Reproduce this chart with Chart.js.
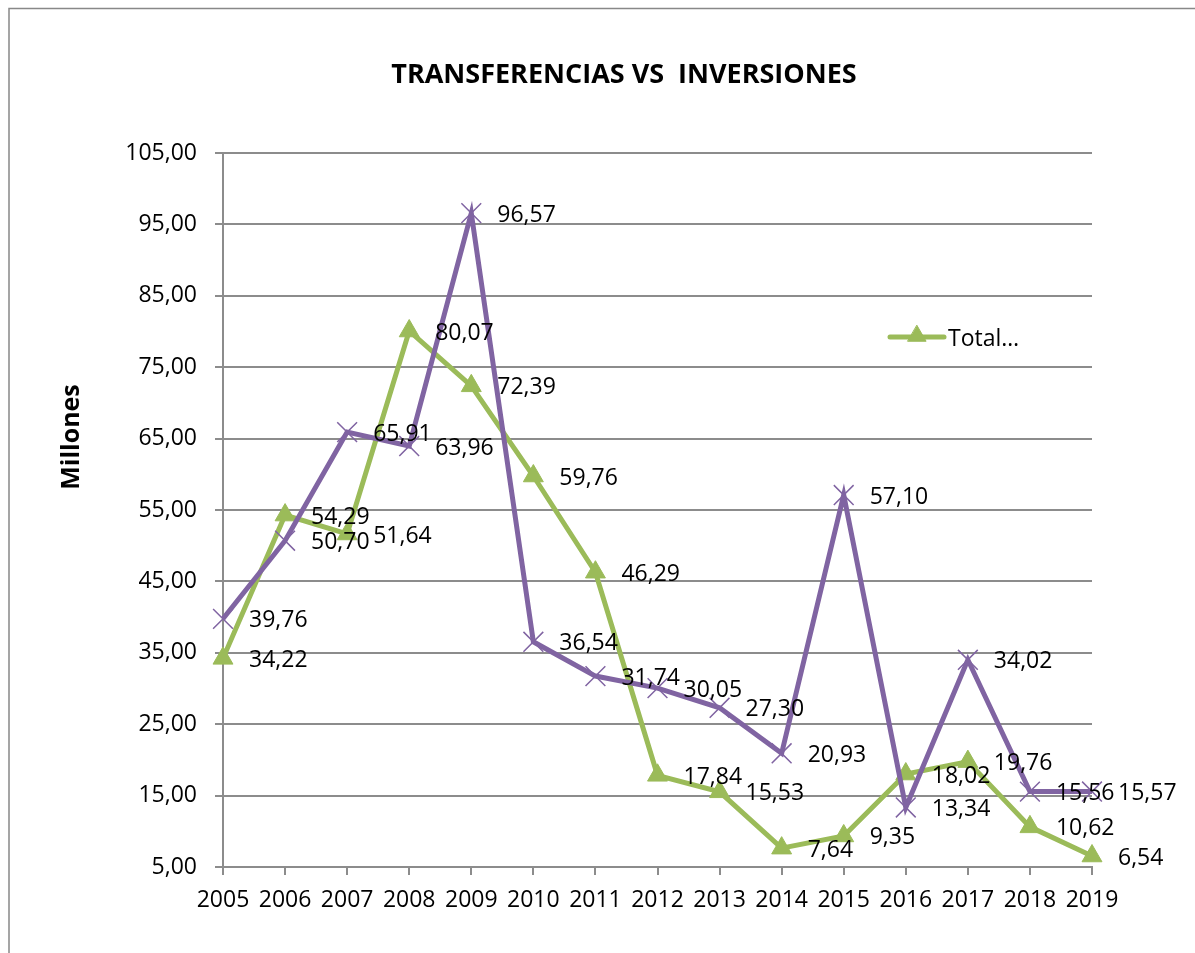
<!DOCTYPE html>
<html>
<head>
<meta charset="utf-8">
<title>Transferencias vs Inversiones</title>
<script src="https://cdn.jsdelivr.net/npm/chart.js@4.4.1/dist/chart.umd.min.js"></script>
<style>
body { margin: 0; background: #fff; }
canvas { display: block; }
</style>
</head>
<body>
<canvas id="grafico" width="1195" height="953"></canvas>
<script>
// datos (millones)
var anios = ['2005', '2006', '2007', '2008', '2009', '2010', '2011', '2012', '2013', '2014', '2015', '2016', '2017', '2018', '2019'];
var totalTransferencias = [34.22, 54.29, 51.64, 80.07, 72.39, 59.76, 46.29, 17.84, 15.53, 7.64, 9.35, 18.02, 19.76, 10.62, 6.54];
var inversiones = [39.76, 50.70, 65.91, 63.96, 96.57, 36.54, 31.74, 30.05, 27.30, 20.93, 57.10, 13.34, 34.02, 15.56, 15.57];
var limitesY = [5, 105];
var pasoY = 10;

var VERDE = '#9BBB59';
var MORADO = '#8064A2';
var GRIS = '#8c8c8c';

function formato(v) {
    return Number(v).toFixed(2).replace('.', ',');
}

Chart.defaults.font.family = "'Open Sans', sans-serif";
Chart.defaults.font.size = 23;
Chart.defaults.color = '#000';

/*=============================================
PLUGIN: fondo, borde, titulos, leyenda y etiquetas
=============================================*/
var extras = {
    id: 'extras',
    beforeDraw: function (chart) {
        var ctx = chart.ctx;
        ctx.save();
        ctx.fillStyle = '#fff';
        ctx.fillRect(0, 0, chart.width, chart.height);
        ctx.strokeStyle = '#888';
        ctx.lineWidth = 1.5;
        ctx.beginPath();
        ctx.moveTo(9, chart.height);
        ctx.lineTo(9, 8.5);
        ctx.lineTo(chart.width, 8.5);
        ctx.stroke();
        ctx.restore();
    },
    afterDatasetsDraw: function (chart) {
        var ctx = chart.ctx;
        ctx.save();
        ctx.font = "23px 'Open Sans', sans-serif";
        ctx.fillStyle = '#000';
        ctx.textAlign = 'left';
        ctx.textBaseline = 'middle';
        chart.data.datasets.forEach(function (ds, i) {
            var meta = chart.getDatasetMeta(i);
            meta.data.forEach(function (el, j) {
                ctx.fillText(formato(ds.data[j]), el.x + 26, el.y + 2);
            });
        });

        // titulo principal (el original no esta centrado en el lienzo)
        ctx.save();
        ctx.font = "bold 27px 'Open Sans', sans-serif";
        ctx.textAlign = 'center';
        ctx.fillText('TRANSFERENCIAS VS  INVERSIONES', 624, 75);
        ctx.restore();

        // titulo del eje Y
        ctx.save();
        ctx.translate(72, 437);
        ctx.rotate(-Math.PI / 2);
        ctx.font = "bold 25px 'Open Sans', sans-serif";
        ctx.textAlign = 'center';
        ctx.fillText('Millones', 0, 0);
        ctx.restore();

        // leyenda (solo la serie verde)
        var ds = chart.data.datasets[1];
        ctx.strokeStyle = ds.borderColor;
        ctx.lineWidth = 5;
        ctx.lineCap = 'round';
        ctx.beginPath();
        ctx.moveTo(890, 337);
        ctx.lineTo(944, 337);
        ctx.stroke();
        ctx.fillStyle = ds.pointBackgroundColor;
        ctx.strokeStyle = ds.pointBorderColor;
        ctx.lineWidth = 1;
        Chart.helpers.drawPoint(ctx, { pointStyle: 'triangle', radius: 10.5, rotation: 0, borderWidth: 1 }, 917, 336);
        ctx.fillStyle = '#000';
        ctx.font = "23px 'Open Sans', sans-serif";
        ctx.fillText(ds.label, 948, 339);
        ctx.restore();
    }
};

var ctx = document.getElementById('grafico').getContext('2d');
new Chart(ctx, {
    type: 'line',
    data: {
        labels: anios,
        datasets: [{
            label: 'Inversiones',
            data: inversiones,
            borderColor: MORADO,
            borderWidth: 5,
            pointStyle: 'crossRot',
            pointRadius: 14,
            pointBorderWidth: 1.5,
            pointBorderColor: MORADO,
            pointBackgroundColor: MORADO,
            tension: 0,
            order: 0
        }, {
            label: 'Total…',
            data: totalTransferencias,
            borderColor: VERDE,
            borderWidth: 5,
            pointStyle: 'triangle',
            pointRadius: 11.5,
            pointBorderWidth: 1,
            pointBorderColor: VERDE,
            pointBackgroundColor: VERDE,
            tension: 0,
            order: 1
        }]
    },
    options: {
        responsive: false,
        animation: false,
        layout: {
            padding: { left: 0, right: 103, top: 153, bottom: 0 }
        },
        plugins: {
            legend: { display: false },
            tooltip: { enabled: false },
            title: { display: false }
        },
        scales: {
            x: {
                offset: false,
                grid: {
                    drawOnChartArea: false,
                    drawTicks: true,
                    tickLength: 8,
                    color: GRIS,
                    lineWidth: 2
                },
                border: { display: true, color: GRIS, width: 2 },
                ticks: { padding: 12, maxRotation: 0, autoSkip: false },
                afterFit: function (scale) { scale.height = 86; }
            },
            y: {
                min: limitesY[0],
                max: limitesY[1],
                grid: {
                    color: GRIS,
                    lineWidth: 2,
                    tickLength: 8
                },
                border: { display: true, color: GRIS, width: 2 },
                ticks: {
                    stepSize: pasoY,
                    padding: 18,
                    callback: function (v) { return formato(v); }
                },
                afterFit: function (scale) { scale.width = 223; }
            }
        }
    },
    plugins: [extras]
});
</script>
</body>
</html>
